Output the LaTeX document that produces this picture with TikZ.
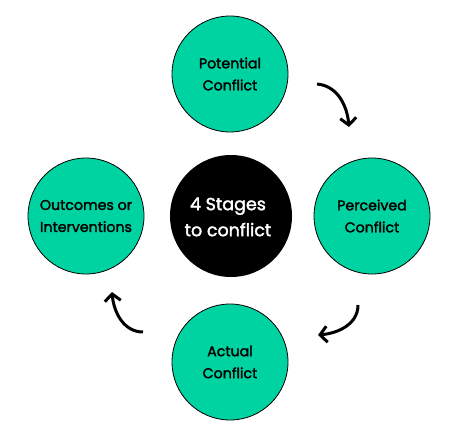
\documentclass[tikz,border=0pt]{standalone}
\usepackage{fontspec}
\setmainfont{Poppins}
\newfontfamily\stagefont{Poppins}[FakeBold=2]
\usepackage{tikz}
\usetikzlibrary{arrows.meta,positioning}
\definecolor{stagegreen}{RGB}{0,211,162}
\tikzset{
  stage/.style={draw=black,line width=0.8pt,circle,fill=stagegreen,minimum size=116pt,inner sep=0pt,align=center,font=\stagefont\fontsize{14.2}{22}\selectfont},
  hub/.style={circle,fill=black,minimum size=122pt,inner sep=0pt,align=center,text=white,font=\stagefont\fontsize{17.5}{26}\selectfont},
  flow/.style={-{Straight Barb[length=7pt,width=16pt,line width=3pt]},line width=3pt},
}
\begin{document}
\begin{tikzpicture}[x=1pt,y=1pt]
 \useasboundingbox (0,0) rectangle (458,424);
 \node[hub] (hubc) at (231,208){};
 \node[text=white,align=center,font=\stagefont\fontsize{17.5}{26}\selectfont,inner sep=0pt] (hubtxt) at (228,207){4 Stages\\to conflict};
 \node[stage] (potential) at (230,350){Potential\\Conflict};
 \node[stage] (perceived) at (372,208){Perceived\\Conflict};
 \node[stage] (actual) at (230,62){Actual\\Conflict};
 \node[stage] (outcomes) at (86,208){Outcomes or\\Interventions};
 \coordinate (a1s) at (317,340); \coordinate (a1e) at (349,297);
 \coordinate (a2s) at (358,119); \coordinate (a2e) at (318,89);
 \coordinate (a3s) at (143,92);  \coordinate (a3e) at (112,132);
 \draw[flow] (a1s) to[out=-5,in=95] (a1e);
 \draw[flow] (a2s) to[out=-90,in=5] (a2e);
 \draw[flow] (a3s) to[out=180,in=-85] (a3e);
\end{tikzpicture}
\end{document}
